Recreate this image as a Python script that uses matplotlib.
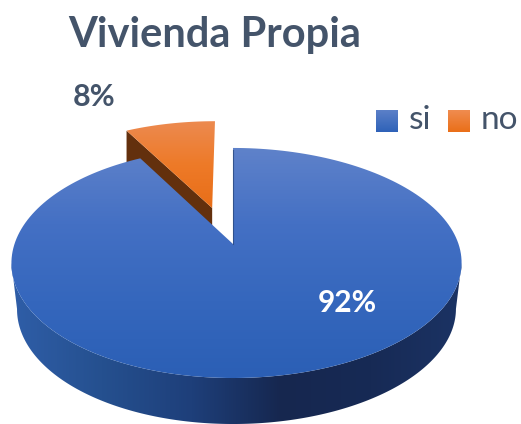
import numpy as np
import matplotlib
matplotlib.use('Agg')
import matplotlib.pyplot as plt
from matplotlib.colors import LinearSegmentedColormap
from matplotlib.patches import Polygon

# dane
categories = ['si', 'no']
values = [92, 8]
labels = ['92%', '8%']
title = 'Vivienda Propia'

# perspektywa: kolo jednostkowe -> piksele
CX, CY = 233, 244
A, B, K, SKEW = 222, 111.9, 0.165, 3.5
DEPTH = 46
EXPLODE = 0.351
SLATE = '#44546a'


def project(u, v):
    den = 1 + K * v
    return CX + (A * u + SKEW * u**2) / den, CY - B * v / den


def grad(ax, pts, colors, horizontal=False, extent=None):
    pts = np.asarray(pts)
    if extent is None:
        extent = (pts[:, 0].min(), pts[:, 0].max(), pts[:, 1].max(), pts[:, 1].min())
    cmap = LinearSegmentedColormap.from_list('g', colors)
    g = np.linspace(0, 1, 256)
    g = g.reshape(1, -1) if horizontal else g.reshape(-1, 1)
    im = ax.imshow(g, cmap=cmap, extent=extent, aspect='auto', zorder=2, origin='upper')
    clip = Polygon(pts, closed=True, transform=ax.transData, fc='none', ec='none')
    ax.add_patch(clip)
    im.set_clip_path(clip)


def slice_pts(start, stop, off=(0, 0)):
    # katy liczone od gory, zgodnie z zegarem
    t = np.radians(np.linspace(start, stop, 200))
    x, y = project(np.sin(t) + off[0], np.cos(t) + off[1])
    ax_x, ax_y = project(off[0], off[1])
    return np.vstack([[ax_x, ax_y], np.column_stack([x, y])])


fig = plt.figure(figsize=(5.21, 4.24), dpi=100)
ax = fig.add_axes([0, 0, 1, 1])
ax.axis('off')

angles = 360 * np.cumsum(values) / np.sum(values)
si_end = angles[0]

# "no" - wysuniety kawalek
mid = np.radians((si_end + 360) / 2)
off = (EXPLODE * np.sin(mid) - 0.012, EXPLODE * np.cos(mid))
no_top = slice_pts(si_end, 360, off)
apex = no_top[0]
corner = no_top[1]
wall = [corner, apex, apex + [0, 45], corner + [0, 45]]
ax.add_patch(Polygon(wall, closed=True, fc='#63300d', ec='none', zorder=2))
grad(ax, no_top, ['#ec8a50', '#ee7a28', '#e86e18'])

# bok kola
t = np.radians(np.linspace(99.5, 260.5, 300))
rx, ry = project(np.sin(t), np.cos(t))
low_x = 236 + (rx - 236) * 0.975
low_y = ry + DEPTH
band = np.vstack([np.column_stack([rx, ry]), np.column_stack([low_x, low_y])[::-1]])
grad(ax, band, ['#2f5ea8', '#25508f', '#1e3f7a', '#16274f', '#172a55', '#1b3364'], horizontal=True)

# "si" - gorna powierzchnia
si_top = slice_pts(0, si_end)
grad(ax, si_top, ['#5f82ca', '#4470c4', '#3567bd', '#2b5fb5'])
ax.plot([CX, CX], [150, CY], color='#2b4a80', lw=0.8, alpha=0.8, zorder=3)

ax.set_xlim(0, 521)
ax.set_ylim(424, 0)

# teksty
ax.text(68, 35, title, fontsize=30, fontweight='bold', color=SLATE, family='Lato',
        va='center', ha='left', zorder=5)
ax.text(94, 97, labels[1], fontsize=22, fontweight='bold', color=SLATE, family='Lato',
        va='center', ha='center', zorder=5)
ax.text(347, 303, labels[0], fontsize=21.5, fontweight='bold', color='white', family='Lato',
        va='center', ha='center', zorder=5)

# legenda
leg_x = [376, 448]
leg_colors = [['#5b80c8', '#2f62b8'], ['#f08c50', '#ea6f18']]
text_x = [409, 481]
for lx, c, tx, name in zip(leg_x, leg_colors, text_x, categories):
    sq = [(lx, 110), (lx + 22, 110), (lx + 22, 132), (lx, 132)]
    grad(ax, sq, c)
    ax.text(tx, 120, name, fontsize=24, color=SLATE, family='Lato', va='center', ha='left', zorder=5)

fig.savefig('out.png', dpi=100)
